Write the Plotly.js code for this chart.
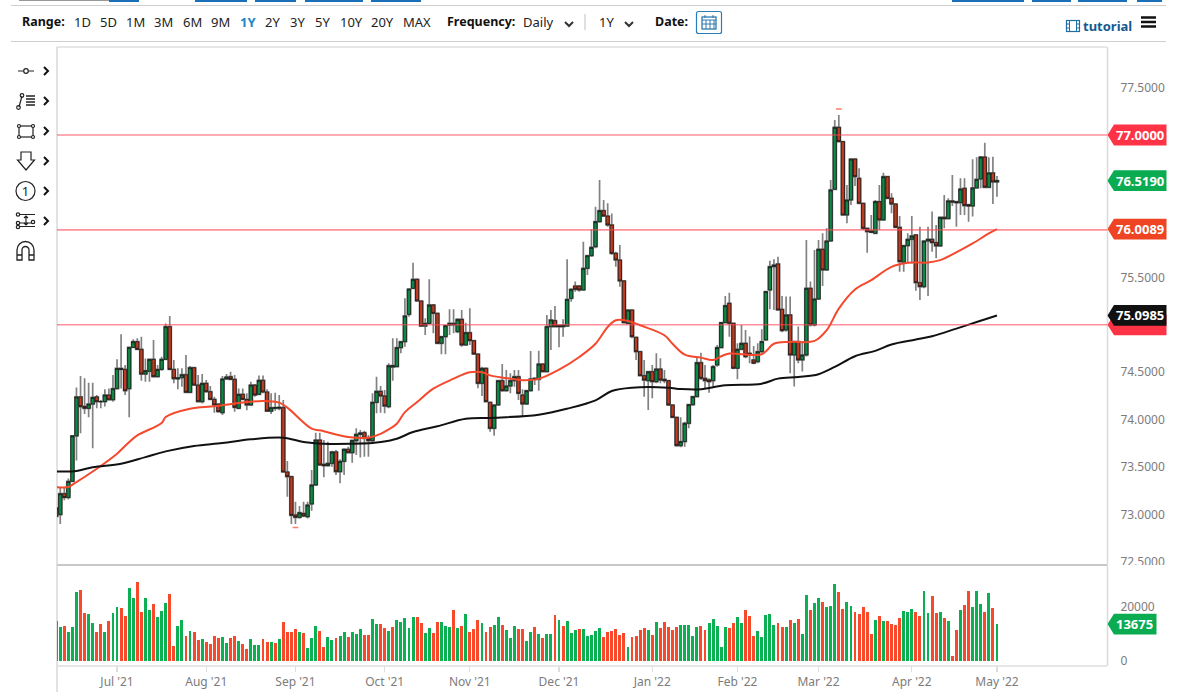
<!DOCTYPE html>
<html><head><meta charset="utf-8">
<script src="https://cdn.plot.ly/plotly-3.0.1.min.js"></script>
<style>
html,body{margin:0;padding:0;background:#fff;overflow:hidden;width:1177px;height:698px;font-family:"Noto Sans",sans-serif}
#chart{position:absolute;left:0;top:0;width:1177px;height:698px}
#ui{position:absolute;left:0;top:0;width:1177px;height:698px;pointer-events:none}
.t{position:absolute;font-size:13px;color:#222;white-space:nowrap;line-height:16px;transform:translateY(-50%)}
.b{font-weight:700;color:#111;font-size:12.5px}
.bar{position:absolute}
</style></head><body>
<div id="chart"></div><div id="ui"></div>
<script>
const open_=[72.98,73.00,73.22,73.18,73.35,73.83,74.24,74.14,74.12,74.165,74.24,74.19,74.19,74.26,74.21,74.327,74.54,74.53,74.327,74.762,74.822,74.741,74.481,74.51,74.636,74.453,74.53,74.636,74.98,74.53,74.43,74.443,74.474,74.288,74.548,74.365,74.19,74.383,74.295,74.214,
74.165,74.074,74.429,74.453,74.425,74.12,74.267,74.214,74.155,74.365,74.267,74.415,74.292,74.09,74.12,74.12,74.127,73.449,73.40,72.996,72.971,73.013,72.978,73.112,73.312,73.786,73.53,73.516,73.54,73.66,
73.452,73.561,73.688,73.652,73.779,73.846,73.863,73.804,73.779,74.183,74.299,74.25,74.137,74.555,74.559,74.759,74.822,75.11,75.384,75.479,75.251,74.987,75.015,75.209,75.121,74.805,74.875,74.998,75.015,74.928,
75.058,74.787,74.917,74.833,74.692,74.383,74.541,74.183,73.909,74.155,74.411,74.306,74.355,74.411,74.453,74.26,74.166,74.306,74.425,74.425,74.587,74.506,74.98,75.044,74.994,74.98,74.987,75.279,75.409,75.409,
75.367,75.595,75.728,75.823,76.087,76.203,76.146,76.052,75.753,75.683,75.462,75.015,75.156,74.868,74.717,74.464,74.411,74.506,74.401,74.534,74.425,74.411,74.155,74.025,73.727,73.769,73.962,74.159,74.243,74.601,
74.436,74.419,74.411,74.577,74.76,75.023,75.227,75.016,74.542,74.742,74.805,74.70,74.63,74.612,74.717,74.84,75.367,75.613,75.641,75.163,74.946,75.104,74.682,74.823,74.63,74.682,75.385,75.0,75.272,75.796,
75.578,75.883,76.428,77.081,76.93,76.157,76.315,76.747,76.544,76.28,76.017,75.989,75.964,76.298,76.105,76.561,76.333,76.273,76.027,75.659,75.834,75.901,75.947,75.444,75.402,75.883,75.901,75.866,75.831,76.133,
76.119,76.305,76.298,76.287,76.438,76.266,76.252,76.442,76.537,76.768,76.449,76.60,76.505];
const high_=[73.15,73.29,73.29,73.38,73.84,74.34,74.46,74.436,74.39,74.39,74.26,74.207,74.32,74.33,74.47,74.636,74.90,74.576,74.77,74.847,74.857,74.875,74.646,74.646,74.84,74.576,74.664,75.015,75.092,74.629,74.541,74.541,74.682,74.566,74.559,74.471,74.481,74.418,74.355,74.243,
74.172,74.46,74.481,74.506,74.471,74.33,74.33,74.278,74.40,74.376,74.467,74.467,74.32,74.278,74.285,74.26,74.207,73.565,73.407,73.136,73.09,73.136,73.136,73.47,73.863,73.863,73.786,73.768,73.674,73.68,
73.582,73.70,73.716,73.786,73.909,73.891,73.884,73.839,74.278,74.453,74.355,74.313,74.594,74.857,74.857,74.822,75.279,75.384,75.655,75.49,75.251,75.068,75.479,75.209,75.121,74.882,74.998,75.163,75.163,75.068,
75.156,75.022,75.174,74.84,74.692,74.559,74.552,74.19,74.155,74.411,74.587,74.524,74.489,74.524,74.524,74.32,74.313,74.724,74.436,74.727,74.594,75.103,75.156,75.198,74.998,75.058,75.69,75.384,75.455,75.419,
75.876,75.735,76.006,76.245,76.526,76.315,76.28,76.174,75.77,75.841,75.462,75.163,75.163,74.868,74.717,74.629,74.506,74.576,74.699,74.647,74.524,74.418,74.155,74.025,74.025,73.979,74.159,74.243,74.664,74.706,
74.576,74.436,74.576,74.788,75.033,75.304,75.339,75.016,74.805,74.998,74.946,74.876,74.777,74.805,74.953,75.36,75.676,75.69,75.718,75.304,75.297,75.297,74.823,74.981,74.823,75.894,75.455,75.789,75.894,75.964,
76.017,76.526,77.158,77.211,76.93,76.473,76.754,76.747,76.649,76.28,76.017,76.157,76.315,76.473,76.603,76.561,76.386,76.273,76.147,75.834,75.964,76.147,75.947,76.034,75.883,76.034,76.193,76.052,76.133,76.368,
76.333,76.579,76.305,76.544,76.544,76.266,76.744,76.765,76.779,76.919,76.765,76.772,76.568];
const low_=[72.94,72.90,73.15,73.16,73.34,73.57,73.856,74.06,74.025,73.70,74.12,74.12,74.14,74.205,74.19,74.32,74.33,74.26,74.025,74.752,74.734,74.411,74.40,74.40,74.446,74.446,74.516,74.63,74.523,74.383,74.32,74.348,74.278,74.278,74.355,74.18,74.172,74.285,74.207,74.074,
74.074,74.05,74.418,74.418,74.085,74.11,74.207,74.10,74.144,74.243,74.26,74.278,74.08,74.06,74.095,74.10,73.442,73.189,72.901,72.901,72.957,72.971,72.96,73.04,73.301,73.512,73.393,73.505,73.505,73.417,
73.33,73.417,73.645,73.547,73.628,73.603,73.61,73.61,73.751,74.067,74.074,74.067,74.12,74.411,74.559,74.70,74.77,75.086,75.374,75.244,74.98,74.893,75.008,74.91,74.798,74.689,74.689,74.893,74.91,74.91,
74.77,74.787,74.787,74.682,74.331,74.25,74.18,73.874,73.832,74.155,74.295,74.295,74.278,74.348,74.208,74.032,74.155,74.295,74.366,74.306,74.499,74.506,74.735,74.98,74.763,74.875,74.98,75.244,75.349,75.349,
75.36,75.525,75.718,75.806,76.076,76.139,76.034,75.735,75.613,75.402,75.015,75.008,74.857,74.629,74.46,74.243,74.102,74.225,74.383,74.383,74.383,74.145,74.015,73.716,73.709,73.716,73.909,74.145,74.236,74.419,
74.331,74.285,74.348,74.559,74.753,75.016,74.875,74.531,74.426,74.735,74.647,74.595,74.584,74.595,74.70,74.833,75.163,75.156,75.149,74.921,74.928,74.489,74.349,74.595,74.507,74.665,74.981,74.981,75.262,75.409,
75.578,75.876,76.421,76.93,76.157,76.07,76.263,76.463,76.28,76.0,75.76,75.964,75.964,76.0,76.105,76.333,76.175,76.027,75.56,75.56,75.648,75.648,75.36,75.262,75.385,75.304,75.771,75.701,75.824,76.017,
76.119,76.252,76.034,76.157,76.157,76.087,76.14,76.442,76.438,76.438,76.449,76.273,76.35];
const close_=[73.07,73.22,73.18,73.35,73.83,74.24,74.137,74.12,74.165,74.235,74.19,74.19,74.26,74.21,74.327,74.54,74.53,74.305,74.762,74.822,74.741,74.481,74.517,74.636,74.453,74.53,74.636,74.98,74.53,74.432,74.44,74.474,74.288,74.548,74.365,74.19,74.383,74.295,74.214,74.155,
74.085,74.429,74.45,74.425,74.13,74.267,74.214,74.155,74.365,74.26,74.415,74.292,74.09,74.127,74.127,74.13,73.449,73.40,72.992,72.971,73.02,72.985,73.101,73.312,73.786,73.523,73.516,73.54,73.66,73.452,
73.561,73.688,73.652,73.782,73.846,73.86,73.804,73.779,74.183,74.299,74.25,74.144,74.569,74.57,74.759,74.822,75.093,75.377,75.479,75.251,74.987,75.015,75.209,75.121,74.805,74.875,74.991,75.015,75.0,75.058,
74.787,74.917,74.833,74.692,74.383,74.541,74.19,73.909,74.155,74.411,74.306,74.355,74.411,74.453,74.278,74.166,74.306,74.429,74.436,74.587,74.506,74.98,75.051,74.98,74.98,74.994,75.268,75.374,75.374,75.367,
75.595,75.728,75.816,76.087,76.203,76.146,76.052,75.753,75.683,75.462,75.022,75.156,74.875,74.717,74.464,74.418,74.506,74.401,74.534,74.418,74.411,74.155,74.025,73.727,73.769,73.962,74.159,74.243,74.601,74.436,
74.411,74.401,74.559,74.76,75.023,75.202,75.016,74.542,74.742,74.805,74.665,74.682,74.595,74.717,74.823,75.35,75.613,75.63,75.156,74.939,75.104,74.682,74.823,74.63,74.682,75.385,75.0,75.272,75.796,75.578,
75.883,76.421,77.081,76.93,76.157,76.315,76.747,76.561,76.28,76.017,75.982,75.975,76.298,76.105,76.561,76.333,76.273,76.027,75.666,75.834,75.901,75.936,75.444,75.402,75.883,75.901,75.866,75.831,76.133,76.119,
76.305,76.294,76.287,76.431,76.256,76.252,76.442,76.533,76.768,76.449,76.60,76.505,76.519];
const volume=[14800,12700,12800,10700,12500,25600,26300,17800,17400,14100,10900,13700,10700,14900,17700,19900,19500,16700,26900,23500,29400,18300,23200,18900,21100,16400,18500,21500,24800,5600,13000,15100,9100,11100,10700,7800,8200,6900,6400,9400,
8600,8900,6500,8500,9300,7400,6300,4400,8300,5900,6100,8200,6900,7000,6800,8000,14400,10700,10600,11700,10900,10300,4800,8500,13000,11200,5200,8900,7800,8600,
9300,10600,8900,10700,10100,11900,9800,9800,15700,13600,13600,12100,11200,12600,15100,14400,15900,12200,16300,16200,14100,10500,12200,10500,14300,14400,12800,12600,18900,12400,
12800,17300,10700,11900,15200,14000,10700,12500,13300,16400,13300,11500,8500,13000,11900,11900,7500,10900,12600,10100,8500,9900,9900,17000,15200,13100,14700,10400,11500,11900,
11700,9100,9800,11100,12100,8900,10900,11000,12000,9600,10400,5200,8900,9100,11500,12400,11500,9600,14400,12400,14600,12500,11500,12600,13300,13300,13200,9300,12600,13100,
11400,14100,15400,13100,5200,12700,12100,14000,16300,14000,18800,16700,9100,11000,8900,17200,17300,13300,14000,12500,12500,15300,14000,15700,10100,24600,18800,21400,23500,22000,
20000,20300,28700,25400,19400,21700,20300,18000,17500,20000,18000,9900,15200,16700,14700,14900,13700,13200,16100,18500,18200,19100,18200,16500,26100,17800,24000,17900,18300,16100,
14700,1700,11500,19000,20700,26100,20000,25800,21200,18000,25300,19800,13675];
const volumeDir="GGRGGGRRGGRRGRGGRRGGRRGGRGGGRRGGRGRRGRRRRGGRRGRRGGGRRGRGRRRRGRGGGRRGGRGGRGGGRRGGRRGRGGGGGRRGGRRGGGRGRGRRRGRRGGRGGGRRGGRGRGGRGRGGGRGGGGGRRRRRRGRRRRGRGRRRRRGGGGGRRGGGGGRRGGRRRGGGGGRRGRGRGGRGGRGGGRRGGRRRRRGRGRRRRGGGRRGGRRGRGRRGRRGGGRGRG";
const redX=[0,3,4,10,15,18,20,26,27,33,39,45,51,55,57,63,65,72,77,80,82,84,86,89,93,98,102,105,107,111,115,119,124,129,133,136,138,141,144,150,152,155,159,162,164,166,174,177,181,187,190,193,197,201,206,210,215,218,223,226,230,232];
const redMA=[73.29,73.29,73.315,73.483,73.642,73.765,73.835,73.965,74.028,74.116,74.141,74.176,74.197,74.18,74.127,73.905,73.888,73.817,73.81,73.85,73.898,73.958,74.08,74.186,74.327,74.432,74.50,74.50,74.467,74.439,74.415,74.43,74.527,74.661,74.80,74.977,75.048,75.04,74.995,74.89,74.80,74.686,74.654,74.63,74.669,74.697,74.69,74.80,74.82,74.83,74.943,75.171,75.372,75.47,75.61,75.653,75.657,75.681,75.787,75.857,75.963,76.0089];
const blackX=[0,5,9,16,22,27,34,41,48,56,61,66,73,78,80,84,88,94,101,108,119,126,133,137,142,151,154,159,165,174,178,183,188,192,197,202,206,212,216,222,227,232];
const blackMA=[73.455,73.459,73.50,73.536,73.606,73.666,73.723,73.754,73.793,73.81,73.765,73.747,73.747,73.754,73.764,73.80,73.87,73.93,74.01,74.02,74.053,74.116,74.204,74.302,74.337,74.337,74.323,74.32,74.363,74.38,74.433,74.45,74.479,74.556,74.669,74.725,74.792,74.844,74.88,74.96,75.03,75.0985];
const extremeX=[59,193];
const extremeY=[72.864,77.274];
const hLevels=[77.0,76.0,75.0];
const priceTicks=[72.5,73,73.5,74,74.5,75.5,77.5];
const volumeTicks=[0,20000];
const monthTickIdx=[15,37,59,81,102,124,147,168,188,211,232];
const monthTickLabels=["Jul '21","Aug '21","Sep '21","Oct '21","Nov '21","Dec '21","Jan '22","Feb '22","Mar '22","Apr '22","May '22"];
const lastTags=[["77.0000",77.0,"#ff3346"],["75.0000",75.0,"#ff3346"],["76.0089",76.0089,"#ef4423"],["76.5190",76.519,"#0bab52"],["75.0985",75.0985,"#111111"]];
const lastVolumeTag=["13675",13675,"#0bab52"];

const W=1177,H=698,FONT='"Noto Sans",sans-serif';
const fx=p=>p/W, fy=p=>1-p/H;
const idx=close_.map((_,i)=>i);
const yPx=v=>135+(77-v)*94.9, vPx=v=>661-v/20000*54;
const candleCommon={x:idx,type:'candlestick',xaxis:'x',yaxis:'y',hoverinfo:'skip',showlegend:false};
const traces=[
 Object.assign({},candleCommon,{open:open_,high:high_,low:low_,close:close_,whiskerwidth:0,
   increasing:{line:{color:'#828282',width:1.7},fillcolor:'#828282'},
   decreasing:{line:{color:'#828282',width:1.7},fillcolor:'#828282'}}),
 Object.assign({},candleCommon,{open:open_,close:close_,
   high:open_.map((o,i)=>Math.max(o,close_[i])),low:open_.map((o,i)=>Math.min(o,close_[i])),whiskerwidth:0,
   increasing:{line:{color:'#161616',width:0.8},fillcolor:'#0c8a43'},
   decreasing:{line:{color:'#161616',width:0.8},fillcolor:'#bf3a20'}}),
 {x:redX,y:redMA,type:'scatter',mode:'lines',line:{color:'#f4492d',width:2,shape:'spline',smoothing:1},hoverinfo:'skip',showlegend:false,xaxis:'x',yaxis:'y'},
 {x:blackX,y:blackMA,type:'scatter',mode:'lines',line:{color:'#111',width:2,shape:'spline',smoothing:1},hoverinfo:'skip',showlegend:false,xaxis:'x',yaxis:'y'},
 {x:extremeX,y:extremeY,type:'scatter',mode:'markers',marker:{symbol:'line-ew-open',size:4,color:'#ff7a66',line:{color:'#ff7a66',width:1.5}},hoverinfo:'skip',showlegend:false,xaxis:'x',yaxis:'y'},
 {x:idx,y:volume,type:'bar',width:0.72,marker:{color:idx.map(i=>volumeDir[i]==='G'?'#0bb052':'#f8492b'),line:{width:0}},hoverinfo:'skip',showlegend:false,xaxis:'x2',yaxis:'y2'}
];
const xr=[(57-56.2)/4.055,(1107-56.2)/4.055];
const tagPath=(cy,right)=>{const l=1107.5,b=1114,h=10.4;
  return `M${fx(l)},${fy(cy)} L${fx(b)},${fy(cy-h)} L${fx(right)},${fy(cy-h)} L${fx(right)},${fy(cy+h)} L${fx(b)},${fy(cy+h)} Z`;};
const shapes=[];
hLevels.forEach(v=>shapes.push({type:'line',xref:'x domain',yref:'y',x0:0,x1:1,y0:v,y1:v,line:{color:'rgba(255,70,85,0.6)',width:1.6},layer:'above'}));
const ann=[];
lastTags.forEach(([s,v,c])=>{
  shapes.push({type:'path',xref:'paper',yref:'paper',path:tagPath(yPx(v),1166.5),fillcolor:c,line:{width:0},layer:'above'});
  if(s!=="75.0000") ann.push({xref:'paper',yref:'paper',x:fx(1140),y:fy(yPx(v)),text:'<b>'+s+'</b>',showarrow:false,xanchor:'center',yanchor:'middle',font:{family:FONT,size:13,color:'#fff'}});
});
shapes.push({type:'path',xref:'paper',yref:'paper',path:tagPath(vPx(lastVolumeTag[1]),1156.5),fillcolor:lastVolumeTag[2],line:{width:0},layer:'above'});
ann.push({xref:'paper',yref:'paper',x:fx(1134),y:fy(vPx(lastVolumeTag[1])),text:'<b>'+lastVolumeTag[0]+'</b>',showarrow:false,xanchor:'center',yanchor:'middle',font:{family:FONT,size:13,color:'#fff'}});
const gl=(x0,y0,x1,y1,c,w)=>shapes.push({type:'line',xref:'paper',yref:'paper',x0:fx(x0),x1:fx(x1),y0:fy(y0),y1:fy(y1),line:{color:c,width:w},layer:'below'});
gl(57,47,1107,47,'#d0d0d0',1.2);
gl(57,47,57,692,'#cfcfcf',1.2);
gl(1107.5,47,1107.5,666,'#dcdcdc',1.6);
gl(57,565,1107,565,'#c8c8c8',1.8);
gl(57,666,1107,666,'#dedede',1.6);
const tickFont={family:FONT,size:12,color:'#7c7c7c'};
const layout={width:W,height:H,margin:{l:0,r:0,t:0,b:0},paper_bgcolor:'#fff',plot_bgcolor:'#fff',showlegend:false,bargap:0,boxgap:0.2,boxgroupgap:0,hovermode:false,
 xaxis:{type:'linear',domain:[fx(57),fx(1107)],range:xr,anchor:'y',showticklabels:false,ticks:'',showgrid:false,zeroline:false,showline:false,rangeslider:{visible:false}},
 yaxis:{domain:[fy(565),fy(47)],range:[77-(565-135)/94.9,77+(135-47)/94.9],side:'right',anchor:'x',tickmode:'array',tickvals:priceTicks,ticktext:priceTicks.map(v=>v.toFixed(4)),
   tickfont:tickFont,ticks:'outside',ticklen:10,tickcolor:'rgba(0,0,0,0)',showgrid:false,zeroline:false,showline:false},
 xaxis2:{type:'linear',domain:[fx(57),fx(1107)],range:xr,anchor:'y2',tickmode:'array',tickvals:monthTickIdx,ticktext:monthTickLabels,tickfont:tickFont,ticks:'outside',ticklen:5,tickcolor:'#dddddd',tickwidth:1.2,showgrid:false,zeroline:false,showline:false,rangeslider:{visible:false}},
 yaxis2:{domain:[fy(666),fy(566.5)],range:[(661-666)/54*20000,(661-566.5)/54*20000],side:'right',anchor:'x2',tickmode:'array',tickvals:volumeTicks,ticktext:volumeTicks.map(String),
   tickfont:tickFont,ticks:'outside',ticklen:10,tickcolor:'rgba(0,0,0,0)',showgrid:false,zeroline:false,showline:false},
 shapes:shapes,annotations:ann};
Plotly.newPlot('chart',traces,layout,{displayModeBar:false,staticPlot:true});

const ui=document.getElementById('ui');
const txt=(x,y,s,cls,style)=>{const d=document.createElement('div');d.className='t '+(cls||'');d.textContent=s;d.style.left=x+'px';d.style.top=y+'px';if(style)Object.assign(d.style,style);ui.appendChild(d);};
const rect=(x,y,w,h,c)=>{const d=document.createElement('div');d.className='bar';Object.assign(d.style,{left:x+'px',top:y+'px',width:w+'px',height:h+'px',background:c});ui.appendChild(d);};
rect(1108.5,565,68,12,'#fff');
rect(11,5,1155,1,'#cfcfcf');rect(11,41,1155,1,'#cfcfcf');
rect(19,0,90,1,'#999');[[109,30],[195,52],[255,41],[305,58],[371,50],[952,72],[1032,39],[1078,49],[1137,25]].forEach(([x,w])=>rect(x,0,w,1.5,'#1a6fb8'));
txt(22,22,'Range:','b');
[[74,'1D'],[100,'5D'],[126,'1M'],[154,'3M'],[183,'6M'],[211,'9M'],[265,'2Y'],[290,'3Y'],[315,'5Y'],[340,'10Y'],[371,'20Y'],[403,'MAX']].forEach(([x,s])=>txt(x,22,s));
txt(240,22,'1Y','',{color:'#1f86c9',fontWeight:'700'});
txt(447,22,'Frequency:','b');txt(523,22,'Daily');txt(655,22,'Date:','b');txt(599,22,'1Y');
txt(1083,26,'tutorial','',{color:'#14598f',fontWeight:'700'});
const svgNS='<svg xmlns="http://www.w3.org/2000/svg" width="1177" height="698" style="position:absolute;left:0;top:0" fill="none" stroke="#222" stroke-width="1.2">';
const chev=(x,y)=>`<path d="M${x-2} ${y-4}l4 4l-4 4" stroke="#111" stroke-width="2"/>`;
const dchev=(x,y)=>`<path d="M${x-4} ${y-2}l4 4l4 -4" stroke="#333" stroke-width="2"/>`;
ui.insertAdjacentHTML('beforeend',svgNS+
 dchev(569,24)+dchev(629,24)+
 '<line x1="585" y1="14" x2="585" y2="30" stroke="#ccc"/>'+
 '<rect x="696.5" y="11.5" width="25" height="22" stroke="#2b7cb8" rx="2"/><rect x="702" y="17" width="14" height="12" stroke="#1f6ea8"/><path d="M702 20h14M706 20v9M710 20v9M714 20v9M702 24h14M705 15v3M713 15v3" stroke="#1f6ea8" stroke-width="0.9"/>'+
 '<rect x="1066.5" y="20.5" width="13" height="11" stroke="#1f6ea8"/><path d="M1069.5 20.5v11M1076.5 20.5v11M1066.5 24h3M1066.5 28h3M1076.5 24h3M1076.5 28h3" stroke="#1f6ea8" stroke-width="1"/>'+
 '<path d="M1141 17.5h15M1141 22h15M1141 26.5h15" stroke="#111" stroke-width="2.4"/>'+
 '<path d="M18 71h5.5M28.500 71h5.500"/><circle cx="26" cy="71" r="2.300"/>'+chev(46,71)+
 '<path d="M19 107l3 -11" /><circle cx="18.500" cy="107.500" r="1.800"/><circle cx="22" cy="95.500" r="1.800"/><path d="M26 96h9M26 99h9M26 102h9M26 105h9" stroke-width="1.300"/>'+chev(46,101)+
 '<rect x="19" y="126" width="14" height="11"/><circle cx="19" cy="126" r="1.500" fill="#fff"/><circle cx="33" cy="126" r="1.500" fill="#fff"/><circle cx="19" cy="137" r="1.500" fill="#fff"/><circle cx="33" cy="137" r="1.500" fill="#fff"/>'+chev(46,131)+
 '<path d="M21 152h10v8h3.500l-8.500 10l-8.500 -10h3.500z"/>'+chev(46,161)+
 '<circle cx="25.500" cy="191" r="9.500"/>'+chev(46,191)+
 '<path d="M19 214.500h16M17 226.500h18M17 223h18" /><path d="M26 216v9M24 218l2 -2l2 2M24 223l2 2l2 -2"/><circle cx="18" cy="214.500" r="1.700" fill="#fff"/><circle cx="18" cy="223" r="1.700" fill="#fff"/><circle cx="18" cy="227" r="1.700" fill="#fff"/><circle cx="33" cy="222" r="1.700" fill="#fff"/>'+chev(46,221)+
 '<path d="M17 260v-10a8.500 8.500 0 0 1 17 0v10h-5v-10a3.500 3.500 0 0 0 -7 0v10z" stroke-width="1.300"/><path d="M17 255h5M29 255h5" stroke-width="1.300"/>'+
 '</svg>');
txt(25.5,191,'1','',{transform:'translate(-50%,-50%)',fontSize:'13px'});
</script>
</body></html>
